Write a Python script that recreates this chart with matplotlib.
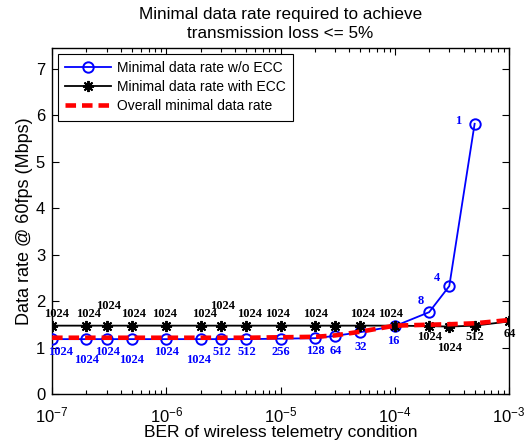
"""Minimal data rate vs BER of the wireless telemetry link (with / without ECC)."""
import matplotlib
matplotlib.use("Agg")
import matplotlib.pyplot as plt
from matplotlib.ticker import LogLocator, NullFormatter

plt.rcParams["font.family"] = ["Liberation Sans", "DejaVu Sans"]
plt.rcParams["mathtext.fontset"] = "custom"
plt.rcParams["mathtext.rm"] = "Liberation Sans"
plt.rcParams["mathtext.it"] = "Liberation Sans:italic"

# BER grid
ber = [1e-7, 2e-7, 3e-7, 5e-7, 1e-6, 2e-6, 3e-6, 5e-6, 1e-5,
       2e-5, 3e-5, 5e-5, 1e-4, 2e-4, 3e-4, 5e-4, 1e-3]

# without ECC (no point at 1e-3)
rate_no_ecc = [1.19, 1.19, 1.19, 1.19, 1.19, 1.19, 1.19, 1.19, 1.20,
               1.21, 1.26, 1.34, 1.47, 1.77, 2.33, 5.82]
labels_no_ecc = ["1024", "1024", "1024", "1024", "1024", "1024", "512", "512", "256",
                 "128", "64", "32", "16", "8", "4", "1"]

# with ECC
rate_ecc = [1.48, 1.48, 1.48, 1.48, 1.48, 1.48, 1.48, 1.48, 1.48,
            1.48, 1.48, 1.48, 1.48, 1.47, 1.46, 1.48, 1.57]
labels_ecc = ["1024", "1024", "1024", "1024", "1024", "1024", "1024", "1024", "1024",
              "1024", "", "1024", "1024", "1024", "1024", "512", "64"]

# overall minimum
rate_overall = [1.22, 1.22, 1.22, 1.22, 1.22, 1.22, 1.22, 1.22, 1.23,
                1.24, 1.27, 1.35, 1.48, 1.50, 1.51, 1.53, 1.60]

# label placement (pixels from the point)
off_no_ecc = [(8, -13), (0, -21), (1, -13), (0, -21), (0, -13), (-2, -21), (1, -13), (1, -13),
              (0, -13), (0, -13), (1, -15), (0, -15), (-2, -15), (-8, 11), (-12, 8), (-16, 3)]
off_ecc = [(4, 12), (2, 12), (2, 20), (2, 12), (-2, 12), (4, 12), (2, 20), (3, 12), (-3, 12),
           (1, 12), (0, 12), (2, 12), (-4, 12), (0, -11), (0, -21), (0, -11), (1, -13)]

fig = plt.figure(figsize=(5.26, 4.46), dpi=100)
ax = fig.add_axes([0.099, 0.1155, 0.8687, 0.777])

ax.plot(ber[:len(rate_no_ecc)], rate_no_ecc, color="#0000ff", lw=1.3, marker="o",
        ms=7.5, mfc="none", mew=1.4, label="Minimal data rate w/o ECC", zorder=3)
ax.plot(ber, rate_ecc, color="black", lw=1.3, marker=(8, 2, 0), ms=8, mew=1.4,
        label="Minimal data rate with ECC", zorder=3)
ax.plot(ber, rate_overall, color="#ff0000", lw=3.3, ls=(0, (2.3, 1.3)),
        label="Overall minimal data rate", zorder=4)

lab_font = dict(family=["Liberation Serif", "DejaVu Serif"], weight="bold", size=9,
                ha="center", va="center", textcoords="offset pixels", zorder=5)
for x, y, s, off in zip(ber, rate_no_ecc, labels_no_ecc, off_no_ecc):
    ax.annotate(s, (x, y), xytext=off, color="#0000ff", **lab_font)
for x, y, s, off in zip(ber, rate_ecc, labels_ecc, off_ecc):
    if s:
        ax.annotate(s, (x, y), xytext=off, color="black", **lab_font)

ax.set_xscale("log")
ax.set_xlim(1e-7, 1e-3)
ax.set_ylim(0, 7.45)
ax.set_yticks(range(8))
ax.xaxis.set_major_locator(LogLocator(base=10, numticks=10))
ax.xaxis.set_minor_locator(LogLocator(base=10, subs=range(2, 10), numticks=10))
ax.xaxis.set_minor_formatter(NullFormatter())
ax.tick_params(which="both", direction="in", top=True, right=True, labelsize=12, width=0.8)
ax.tick_params(which="major", length=5)
ax.tick_params(which="minor", length=3)
ax.tick_params(axis="x", pad=8)
ax.tick_params(axis="y", pad=5)
for sp in ax.spines.values():
    sp.set_linewidth(1.0)

ax.set_xlabel("BER of wireless telemetry condition", fontsize=12.5, labelpad=0)
ax.set_ylabel("Data rate @ 60fps (Mbps)", fontsize=13, labelpad=2)
ax.set_title("Minimal data rate required to achieve\ntransmission loss <= 5%", fontsize=12.3,
             pad=7, linespacing=1.38)

leg = ax.legend(loc="upper left", fontsize=10, handlelength=3.3, borderaxespad=0.4,
                fancybox=False, framealpha=1, edgecolor="black", labelspacing=0.36,
                handletextpad=0.4, borderpad=0.55)
leg.get_frame().set_linewidth(0.8)

fig.savefig("out.png", dpi=100)
